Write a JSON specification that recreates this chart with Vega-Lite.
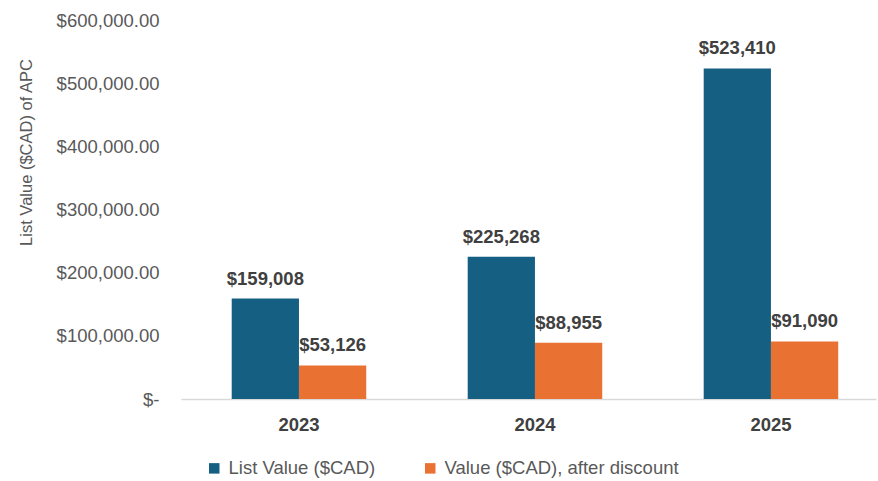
{
  "$schema": "https://vega.github.io/schema/vega-lite/v6.json",
  "width": 695,
  "height": 379,
  "autosize": "none",
  "padding": {"left": 181, "top": 20, "right": 2, "bottom": 82},
  "background": "white",
  "config": {"view": {"stroke": null}, "font": "Liberation Sans"},
  "data": {
    "values": [
      {"year": "2023", "series": "List Value ($CAD)", "value": 159008},
      {"year": "2023", "series": "Value ($CAD), after discount", "value": 53126},
      {"year": "2024", "series": "List Value ($CAD)", "value": 225268},
      {"year": "2024", "series": "Value ($CAD), after discount", "value": 88955},
      {"year": "2025", "series": "List Value ($CAD)", "value": 523410},
      {"year": "2025", "series": "Value ($CAD), after discount", "value": 91090}
    ]
  },
  "encoding": {
    "x": {
      "field": "year", "type": "ordinal", "title": null,
      "scale": {"paddingInner": 0.43, "paddingOuter": 0.1875, "align": 0.573},
      "axis": {
        "labelAngle": 0, "labelFontSize": 18.5, "labelFontWeight": "bold", "labelColor": "#404040",
        "labelPadding": 16, "ticks": false, "tickSize": 0, "domainColor": "#D9D9D9", "domainWidth": 1.3, "grid": false
      }
    },
    "xOffset": {
      "field": "series", "type": "nominal",
      "sort": ["List Value ($CAD)", "Value ($CAD), after discount"],
      "scale": {"paddingInner": 0, "paddingOuter": 0}
    },
    "y": {
      "field": "value", "type": "quantitative",
      "title": "List Value ($CAD) of APC",
      "scale": {"domain": [0, 600000]},
      "axis": {
        "values": [0, 100000, 200000, 300000, 400000, 500000, 600000],
        "labelExpr": "datum.value === 0 ? '$-' : '$' + format(datum.value, ',.2f')",
        "labelFontSize": 18.5, "labelColor": "#595959", "labelPadding": 22,
        "ticks": false, "tickSize": 0, "domain": false, "grid": false,
        "titleFontSize": 16.5, "titleFontWeight": "normal", "titleColor": "#595959",
        "titleX": -147, "titleY": 132
      }
    }
  },
  "layer": [
    {
      "mark": {"type": "bar"},
      "encoding": {
        "color": {
          "field": "series", "type": "nominal",
          "scale": {"domain": ["List Value ($CAD)", "Value ($CAD), after discount"], "range": ["#156082", "#E97132"]},
          "legend": {
            "title": null, "orient": "none", "direction": "horizontal",
            "legendX": 24, "legendY": 439,
            "symbolType": "square", "symbolSize": 110, "symbolStrokeWidth": 0,
            "labelFontSize": 18.5, "labelColor": "#595959", "labelLimit": 400,
            "columnPadding": 45, "labelOffset": 5
          }
        }
      }
    },
    {
      "mark": {"type": "text", "baseline": "bottom", "dy": -10, "fontWeight": "bold", "fontSize": 18.5, "color": "#404040"},
      "encoding": {
        "text": {"field": "value", "type": "quantitative", "format": "$,.0f"}
      }
    }
  ]
}
